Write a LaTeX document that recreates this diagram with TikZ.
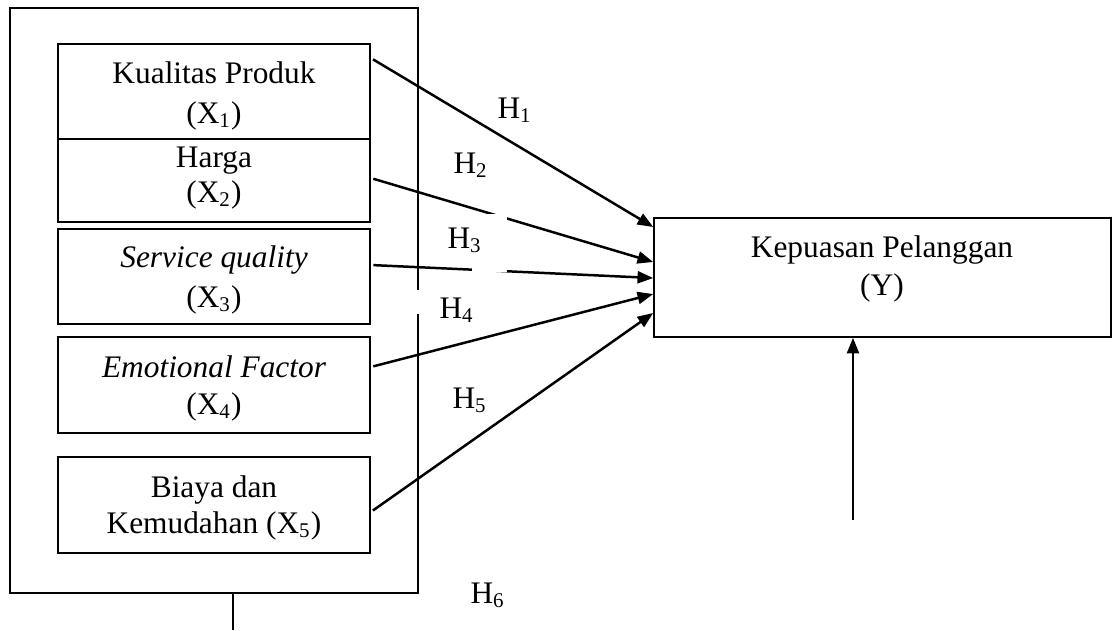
\documentclass[tikz,border=0pt]{standalone}
\usepackage{fontspec}
\setmainfont{Liberation Serif}
\usetikzlibrary{arrows.meta,fit}

\begin{document}
\begin{tikzpicture}[x=0.3825pt,y=-0.3825pt,
  every node/.style={font=\fontsize{12}{14.5}\selectfont},
  frame/.style={draw, line width=0.6pt, inner sep=0pt},
  line/.style={line width=0.6pt},
  arr/.style={line width=0.95pt, shorten <=1pt, -{Triangle[length=6pt,width=4.6pt]}},
  txt/.style={anchor=base, inner sep=0pt},
  hlab/.style={anchor=base west, inner sep=0pt},
  mask/.style={fill=white, draw=none}]
\useasboundingbox (0,0) rectangle (1112,630);

% outer frame around the independent variables
\node[frame, fit={(10,8) (418,593)}] (outer) {};

% independent variable boxes
\node[frame, fit={(58,44) (370,139)}] (b1) {};
\node[frame, fit={(58,139) (370,222)}] (b2) {};
\node[frame, fit={(58,229) (370,324)}] (b3) {};
\node[frame, fit={(58,337) (370,433)}] (b4) {};
\node[frame, fit={(58,457) (370,553)}] (b5) {};

% dependent variable box
\node[frame, fit={(654,218) (1111,337)}] (ybox) {};

% box texts
\node[txt] (t1a) at (214,83) {Kualitas Produk};
\node[txt] (t1b) at (214,123) {(X\textsubscript{1})};
\node[txt] (t2a) at (214,167) {Harga};
\node[txt] (t2b) at (214,202) {(X\textsubscript{2})};
\node[txt] (t3a) at (214,267) {\itshape Service quality};
\node[txt] (t3b) at (214,307) {(X\textsubscript{3})};
\node[txt] (t4a) at (214,377) {\itshape Emotional Factor};
\node[txt] (t4b) at (214,414) {(X\textsubscript{4})};
\node[txt] (t5a) at (214,497) {Biaya dan};
\node[txt] (t5b) at (214,533) {Kemudahan (X\textsubscript{5})};
\node[txt] (tya) at (882,257) {Kepuasan Pelanggan};
\node[txt] (tyb) at (882,295) {(Y)};

% hypothesis arrows
\draw[arr] (b1.east |- 0,58)  -- (ybox.west |- 0,227);
\draw[arr] (b2.east |- 0,178) -- (ybox.west |- 0,262);
\draw[arr] (b3.east |- 0,265) -- (ybox.west |- 0,278);
\draw[arr] (b4.east |- 0,367) -- (ybox.west |- 0,294);
\draw[arr] (b5.east |- 0,512) -- (ybox.west |- 0,313);

% joint effect: stub below the frame and arrow into Y
\coordinate (stubend) at (233,630);
\draw[line] (outer.south -| stubend) -- (stubend);
\coordinate (jointtail) at (853,520);
\draw[arr, shorten <=0pt] (jointtail) -- (ybox.south -| jointtail);

% white label backgrounds
\fill[mask] (472,213.5) rectangle (507,271.6);
\fill[mask] (414,290) rectangle (423,314);

% hypothesis labels
\node[hlab] (h1) at (497,118) {H\textsubscript{1}};
\node[hlab] (h2) at (453,173) {H\textsubscript{2}};
\node[hlab] (h3) at (447,248) {H\textsubscript{3}};
\node[hlab] (h4) at (439,318) {H\textsubscript{4}};
\node[hlab] (h5) at (452,408) {H\textsubscript{5}};
\node[hlab] (h6) at (470,603) {H\textsubscript{6}};
\end{tikzpicture}
\end{document}
